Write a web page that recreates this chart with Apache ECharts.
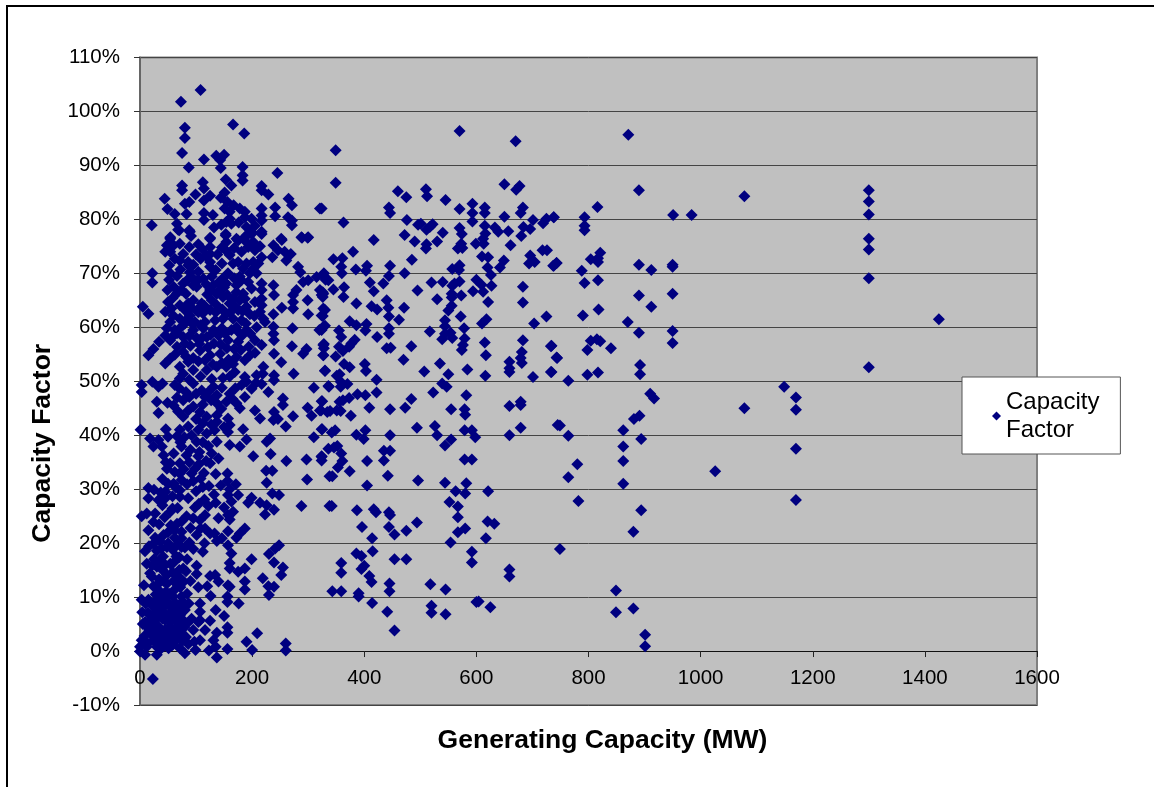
<!DOCTYPE html>
<html><head><meta charset="utf-8"><style>html,body{margin:0;padding:0;background:#fff}#c{width:1154px;height:787px}</style>
<script src="https://cdn.jsdelivr.net/npm/echarts@6/dist/echarts.min.js"></script></head>
<body><div id="c"></div>
<script>
const seriesName = 'Capacity Factor';
const xAxisTitle = 'Generating Capacity (MW)';
const yAxisTitle = 'Capacity Factor';
// [MW, capacity factor %]
const pointsRight = [[1300,85.4],[1300,83.3],[1300,80.9],[1300,76.4],[1300,74.4],[1300,69.1],[1300,52.6],[1425,61.5],[871,95.7],[890,85.4],[1078,84.3],[816,82.3],[951,80.8],[984,80.8],[793,80.4],[793,78.8],[793,78],[738,80.4],[890,71.6],[912,70.6],[950,71.6],[950,71.2],[821,73.8],[817,72.8],[804,72.6],[817,72.1],[743,71.9],[738,71.4],[788,70.5],[793,68.2],[817,68.7],[890,65.9],[950,66.2],[912,63.8],[818,63.3],[790,62.2],[870,61],[890,59],[950,59.3],[950,57.1],[815,57.8],[804,57.5],[821,57.4],[798,55.8],[840,56.1],[733,56.5],[744,54.3],[892,53],[892,51.3],[817,51.6],[798,51.2],[733,51.7],[764,50.1],[1149,49],[910,47.7],[917,46.8],[1078,45],[891,43.6],[881,43],[862,40.9],[894,39.3],[862,37.9],[862,35.2],[862,31],[749,41.8],[764,39.9],[780,34.6],[764,32.2],[782,27.8],[1026,33.3],[894,26.1],[880,22.1],[749,18.9],[849,11.2],[849,7.2],[880,7.9],[901,3],[901,0.9],[1170,47],[1170,44.7],[1170,37.5],[1170,28]];
const pointsMiddleUpper = [[570,96.4],[670,94.5],[349,92.8],[349,86.8],[650,86.5],[677,86.2],[671,85.5],[460,85.2],[475,84.1],[510,85.6],[512,84.3],[545,83.6],[324,82],[444,82.2],[446,81.2],[570,81.9],[593,82.9],[593,81.2],[615,82.2],[615,81.2],[683,82.2],[679,81.2],[650,80.5],[476,79.9],[593,79.6],[701,79.9],[725,80.1],[719,79.3],[738,80.4],[363,79.4],[496,79],[501,79.2],[522,79.1],[517,78.6],[511,78.1],[570,78.4],[615,78.8],[633,78.5],[639,77.7],[657,77.8],[684,78.6],[696,78.2],[574,77.3],[616,77.4],[472,77.1],[540,77.5],[680,76.9],[417,76.2],[490,75.9],[530,75.9],[612,76.4],[511,75.4],[510,74.6],[573,75.5],[599,75.5],[613,75.5],[661,75.2],[567,74.6],[575,74.7],[380,74],[718,74.3],[726,74.3],[345,72.6],[361,72.8],[485,72.5],[610,73.1],[621,73],[696,73.3],[649,72.4],[694,71.8],[704,72.1],[743,71.9],[737,71.4],[359,71.2],[405,71.4],[385,70.7],[403,70.5],[446,71.4],[570,71.5],[557,70.8],[569,70.6],[620,71.1],[642,71.1],[360,70],[328,70],[472,70],[444,69.5],[626,69.7],[331,68.8],[410,68.3],[434,68.1],[520,68.3],[540,68.4],[570,68.5],[561,68.1],[600,68.8],[557,67.7],[609,67.9],[627,67.7],[683,67.5],[364,67.4],[345,67],[417,66.7],[495,66.8],[594,66.7],[612,66.6],[556,66.2],[326,66.5],[326,65.6],[363,65.6],[573,65.9],[530,65.2],[556,65.5],[621,64.7],[683,64.6],[386,64.4],[440,65],[413,63.9],[423,63.3],[443,63.6],[471,63.6],[556,64],[550,63.1],[330,63.2],[326,62.1],[444,62],[462,61.4],[572,62],[725,62],[618,61.5],[610,60.7],[703,60.7],[374,61.1],[386,60.4],[404,60.6],[402,59.4],[330,60.3],[324,59.5],[355,59.4],[444,59.8],[444,58.8],[517,59.2],[544,61.3],[544,60.2],[544,58.8],[554,59],[557,58],[539,57.8],[578,59.8],[359,58.2],[423,58.2],[579,57.9],[683,57.6],[615,57.2],[734,56.6],[576,56.7],[574,55.8],[484,56.5],[383,57.7],[377,57],[373,56.4],[355,56.4],[362,55.6],[328,56.9],[328,56.1],[440,56.1],[447,56.2],[617,54.8],[681,55.4],[679,54.3],[681,53.4],[743,54.4],[327,54.8],[349,54.6],[470,54],[535,53.3],[659,53.6],[659,52.4],[659,51.7],[364,53.2],[374,52.6],[401,53.2],[403,51.9],[330,51.9],[356,51.3],[351,51],[507,51.8],[584,52.2],[550,51.3],[734,51.7],[616,51],[701,50.8],[422,50.3],[358,49.9],[370,49.5],[336,49.1],[358,49],[539,49.6],[547,49]];
const pointsMiddleLower = [[337,49],[388,47.6],[402,47.4],[422,47.9],[523,47.9],[582,47.4],[373,46.9],[362,46.5],[356,46.2],[325,46.3],[484,46.7],[473,45.1],[409,45.1],[446,44.8],[555,44.8],[579,44.8],[580,43.8],[659,45.4],[679,46.2],[679,45.6],[339,44.5],[351,44.6],[358,44.5],[323,44.6],[376,43.6],[494,41.4],[526,41.7],[579,40.9],[592,40.9],[679,41.4],[745,41.9],[325,41.1],[348,40.9],[342,40.5],[402,40.9],[386,40.1],[399,39.3],[446,40],[530,40],[598,39.6],[659,40],[555,39.2],[544,38.1],[352,38],[336,37.5],[346,37.7],[435,37.1],[446,37.1],[359,36.6],[324,36.1],[324,35.3],[361,35.2],[405,35.2],[435,35.3],[579,35.5],[592,35.5],[353,34],[374,33.3],[343,32.4],[442,32.5],[496,31.6],[544,31.2],[582,31.1],[405,30.7],[563,29.6],[580,29.2],[621,29.6],[342,26.9],[387,26.1],[552,27.6],[567,26.8],[417,26.3],[421,25.7],[444,25.7],[446,25.2],[567,24.8],[396,23],[444,23],[454,21.6],[475,22.3],[494,23.8],[620,24],[632,23.6],[580,22.7],[567,22],[414,20.9],[617,20.9],[554,20.1],[415,18.5],[386,18.1],[395,17.6],[592,18.4],[592,16.4],[454,17],[475,17],[359,16.3],[400,15.8],[395,15.2],[659,15.1],[659,13.8],[359,14.5],[409,13.9],[413,12.8],[445,12.5],[518,12.4],[545,11.4],[445,11.1],[343,11.1],[359,11.1],[390,10.7],[390,10.1],[600,9.1],[604,9.2],[625,8.1],[414,8.9],[441,7.3],[520,8.4],[520,7.1],[545,6.8],[454,3.8]];
const pointsLeftTop = [[80,97],[80,95.1],[75,92.3],[114,91.1],[136,91.8],[150,92],[143,91],[87,89.6],[144,89.5],[183,89.7],[183,88.2],[183,87.2],[245,88.6],[166,97.6],[186,95.9],[73,101.8],[108,104],[153,87.4],[163,86.3],[75,86.3],[75,85.4],[112,86.9],[114,85.7],[217,86.2],[217,85.4],[229,84.6],[151,85],[144,84],[99,84.6],[125,84.4],[44,83.8],[114,83.5],[88,83.2],[80,82.9],[265,83.8],[271,82.6],[156,83.2],[167,82.6],[178,82],[151,82],[49,81.9],[62,81],[83,81],[114,81.2],[114,79.9],[217,82],[241,82.2],[321,82],[264,80.4],[271,79.8],[271,78.9],[241,80.6],[217,80.7],[217,79.8],[187,80.4],[187,81.4],[199,80.1],[160,80.1],[154,79.5],[163,79.2],[160,81.4],[21,78.9],[66,79.2],[68,78.1],[88,78],[91,76.9],[190,78.6],[153,77.3],[199,77.3],[217,77.7],[187,76.7],[54,76.7],[125,76.6],[172,76.4],[252,76.4],[288,76.7],[300,76.7]];
const pointsLeftMiddle = [[70,78],[89,77.7],[54,76.4],[125,76.4],[153,77],[154,75.8],[190,77],[217,77.3],[199,77.6],[175,76.1],[193,74.9],[202,75.8],[187,76.1],[253,76.2],[289,76.6],[299,76.6],[48,75.2],[60,75.2],[71,75.5],[54,74],[62,72.7],[45,74],[77,73.6],[88,74.9],[100,73.5],[86,72.1],[71,72.4],[125,74.9],[125,73.6],[125,72.1],[125,71.2],[135,70.6],[146,71.8],[153,74.3],[166,71.8],[175,72.1],[190,71.8],[202,72.1],[211,71.8],[217,73],[202,70.9],[208,70],[196,70],[184,70.9],[157,70],[238,75.2],[236,73],[246,74.3],[258,74],[269,73.6],[261,72.4],[282,71.2],[286,70.2],[291,68.4],[300,68.7],[315,69.3],[327,69.6],[336,68.7],[52,71.5],[86,71.5],[54,70],[22,70],[22,68.3],[104,70.3],[89,70.2],[113,69],[92,69.3],[77,68.1],[95,67.8],[140,68.3],[49,66.9],[82,66.2],[101,67.5],[125,66.9],[137,66.2],[154,68.1],[172,67.8],[181,68.7],[193,68.4],[217,68.1],[199,67.2],[184,66.2],[172,66.5],[217,66.9],[217,65.3],[217,64.1],[238,67.8],[239,66],[220,61.6],[223,61],[279,66.9],[273,66],[273,64.7],[273,63.5],[299,65],[253,63.6],[300,62.4],[238,62.4],[327,66.2],[321,66.9],[324,66],[327,63.5],[324,62.2],[327,60.1],[320,59.5],[5,63.8],[15,62.5],[50,64.7],[56,63.5],[45,62.9],[59,62.2],[71,64.1],[80,63.2],[95,65],[110,64.4],[128,65],[148,65.6],[137,64.1],[160,64.4],[178,65],[190,63.8],[205,64.7],[187,65.3],[175,63.2],[154,62.5],[125,63.2],[104,62.8],[89,62.2],[71,61.6],[54,61],[48,59.8],[62,59.5],[80,60.7],[98,61],[116,61],[134,61.3],[148,61.6],[166,61.6],[181,61.3],[190,59.5],[208,60],[172,60],[163,59.5],[146,59.8],[131,59.5],[113,59.8],[95,59.5],[77,58.2],[54,57.6],[34,57.3],[45,58.5],[101,58],[119,58.2],[140,58.5],[157,57.6],[175,57.3],[205,57.6],[217,56.7],[238,60.1],[238,58.8],[239,57.6],[272,59.8],[271,56.5],[297,56],[291,55.1],[327,56.7],[327,54.8],[239,55.1],[252,53.5],[194,56.4],[24,56],[15,54.8],[77,55.4],[54,54.2],[45,53.3],[71,52.7],[86,53.6],[107,55.7],[125,54.8],[143,55.1],[116,53.9],[172,54.5],[196,54.8],[187,53.9],[154,52.7],[169,51.7],[137,52.7],[119,52.1],[95,52.1],[77,51.4],[187,50.8],[220,52.7],[208,51.1],[219,51.4],[239,51.1],[239,50.2],[274,51.4],[330,52],[310,48.8],[3,49.3],[3,48],[22,49.9],[40,49.6],[33,49],[70,48.7],[71,50.5],[95,49.6],[110,48.3],[116,47.1],[131,49],[137,47.4],[137,45.9],[160,47.7],[181,49.3],[199,48.6],[217,49.5],[187,47.1],[172,45.9],[229,48],[154,46.2],[178,45],[205,44.6],[30,46.2],[49,46],[33,44.1],[77,46.5],[95,45.3],[77,43.4],[107,44.3],[119,43.4],[137,43.7],[86,41.6],[104,41],[119,40.3],[71,41],[255,46.8],[255,45.6],[239,44.3],[238,42.8],[246,43],[260,41.6],[273,43.5],[299,45.1],[306,43.6],[321,44.6],[324,46.3],[334,44.3],[214,43.1],[137,42.5],[157,43.1],[160,41.9],[157,40.6],[184,41.1],[1,41],[46,41.1],[18,39.4],[33,39.1],[50,39.7],[101,38.8],[137,38.8],[190,39.2],[232,39.4],[226,38.8],[324,41.1],[310,39.6],[74,37.9],[24,37.9],[39,37.9],[160,38.2],[178,37.9]];
const pointsLeftBottom = [[42,36.3],[83,36.3],[104,36.1],[128,36.6],[140,35.7],[202,36.1],[233,36.5],[261,35.2],[297,35.5],[324,36],[338,32.4],[54,34.8],[71,34.8],[105,34.6],[125,34.8],[48,33.8],[71,32.9],[92,32.9],[114,33],[135,32.8],[156,32.9],[225,33.4],[236,33.4],[40,31.9],[74,31.7],[95,31.5],[156,31.5],[298,31.8],[226,31.2],[112,30.4],[123,30.6],[144,30.7],[171,30.9],[160,30],[15,30.2],[25,29.9],[45,29.5],[71,29.8],[175,28.9],[157,28.9],[236,29.2],[248,28.9],[15,28.3],[33,28],[45,28.3],[71,28.6],[86,28.3],[105,27.3],[122,26.9],[135,27.5],[163,27.7],[193,27.5],[199,28.4],[214,27.5],[226,27],[239,26.2],[288,26.9],[338,26.9],[40,27],[54,25.8],[27,25.5],[12,25.5],[3,25],[95,24.6],[107,24.3],[116,25.2],[140,24.6],[157,25.2],[160,24.4],[223,25.3],[74,24],[34,23.5],[55,23.3],[15,22.4],[62,22.4],[74,22.1],[101,21.5],[116,22.7],[125,21.8],[157,22.2],[187,22.7],[178,21.8],[172,21],[27,21],[36,20.3],[74,20.9],[137,20.4],[157,19.6],[9,18.5],[48,19.3],[74,19.3],[95,18.9],[112,18.4],[248,19.6],[241,19],[230,18],[163,18.1],[41,17.5],[65,17.5],[12,16.2],[30,15.6],[101,15.8],[160,16.3],[199,17],[239,16.4],[255,15.5],[54,16.2],[77,15.3],[160,15.3],[187,15.3],[175,14.7],[252,14.1],[21,13.8],[48,14.1],[101,14.3],[125,13.9],[134,14.1],[219,13.5],[7,12.2],[30,12.2],[48,12.5],[68,12.2],[140,12.9],[157,12.2],[187,12.9],[187,11.4],[104,11.8],[120,12],[160,11.9],[229,12],[239,11.9],[230,10.4],[3,9.5],[15,9.5],[30,9.5],[42,9.8],[59,10.1],[74,10.1],[126,10.2],[156,10.1],[156,9.1],[176,8.8],[107,8.8],[24,8.2],[42,8.2],[59,8.2],[74,8.2],[135,7.6],[107,7.3],[33,7],[18,6.7],[54,7],[80,7.6],[150,6.5],[107,5.7],[9,5.4],[27,5.7],[45,5.7],[62,5.7],[77,5.7],[104,5.4],[125,5.6],[12,4.5],[33,4.5],[54,4.5],[71,4.5],[95,3.9],[116,3.9],[156,4.4],[18,3.3],[39,3.3],[59,3.3],[77,3],[137,3.4],[156,3.4],[209,3.3],[131,2],[107,2],[3,2],[24,2],[45,2],[62,1.7],[190,1.7],[260,1.4],[135,0.8],[0,0.8],[12,0.8],[30,0.8],[51,0.5],[71,0.5],[99,0.2],[123,0.1],[156,0.4],[200,0.2],[260,0.1],[0,-0.1],[9,-0.7],[30,-0.7],[80,-0.4],[137,-1.2],[23,-5.2],[20,3.8],[40,6],[50,9],[65,6.5],[36,11],[60,13],[70,15],[25,17],[50,20],[62,21],[40,15],[20,6]];
const pointsDenseBand = [[52,68.8],[60,67.5],[66,66.3],[58,65.4],[74,66.9],[86,64.4],[92,63.6],[102,63.2],[112,62.6],[120,66.1],[131,67.8],[143,66.9],[150,67.4],[156,66],[166,65.2],[170,63.8],[183,63],[196,62.4],[204,62.1],[214,62.9],[161,62.8],[147,63.3],[135,62.8],[115,64],[108,60.4],[92,60.8],[84,61.5],[73,60],[66,58.9],[58,58.3],[88,58.4],[106,56.9],[121,56.3],[132,57],[144,56.8],[155,56.1],[168,56],[182,58.5],[197,58.8],[189,60.7],[176,59.1],[152,58.8],[126,58.6],[110,58],[90,56.6],[80,57],[66,56.4],[62,54.9],[82,54.6],[95,54.3],[104,53.7],[130,53.1],[146,53.4],[158,54],[166,53.2],[180,55.8],[205,55.3],[160,50.9],[148,50.6],[128,50.4],[108,50.9],[88,50.3],[62,49.3],[82,48],[100,47.7],[122,48],[146,48.8],[170,48.7],[190,49.9],[207,49.7],[165,46.7],[127,46.5],[112,45.7],[88,47.1],[66,47],[60,45.5],[68,44.4],[86,44.6],[100,43],[112,42.2],[127,42],[145,44.9],[150,41.5],[133,40.9],[92,40],[79,39.6],[66,39.8],[112,38.7],[122,38],[90,37.3],[106,36.9],[118,35.2],[88,35],[78,33.7],[98,33.8],[108,32],[84,30.9],[60,31],[100,29.6],[132,29],[115,28.1],[98,26.6],[150,26.6],[166,25.8],[83,25],[67,26.5],[108,22.7],[90,22.8],[133,21.8],[146,20.9],[115,20],[88,20.1],[104,75.4],[112,74.4],[108,72.7],[95,71.6],[118,73.2],[138,73.5],[146,74.8],[160,73.4],[168,74.7],[181,74],[205,74.3],[214,75],[178,69.4],[168,69.1],[147,69],[128,69.4],[118,68],[104,68.8],[84,68.7],[66,69.5],[72,70.7],[132,78.5],[145,79],[176,79.4],[205,78.8],[130,80.8]];
const pointsLowBlob = [[5,5],[8,2.8],[14,1.4],[17,3.8],[22,5],[26,3.1],[29,1.8],[31,4],[36,2.3],[38,0.5],[43,1],[44,3.9],[47,3],[50,1.4],[52,5.5],[56,2.6],[58,1.1],[63,3.9],[66,2.7],[69,5.1],[72,3.4],[76,1.9],[79,4.4],[82,2.6],[86,1.3],[4,7.2],[10,8.8],[14,7.1],[21,8.8],[28,7.2],[35,8.7],[38,7.5],[44,7],[48,6.2],[52,8.4],[57,6.4],[63,8.9],[67,7.6],[71,6.6],[76,9.2],[84,5.1],[87,8.8],[92,6],[97,1.7],[28,10.5],[38,10.2],[46,11],[52,10.6],[63,11.5],[72,11.8],[78,12.9],[84,10.6],[24,12],[18,14.4],[34,13.3],[42,13],[58,14.6],[68,13.9],[82,14.8],[90,13],[22,15.9],[36,16.9],[45,16],[60,16.4],[70,17.4],[84,17],[30,18.6],[38,19],[58,18.8],[66,19.7],[80,19.2],[16,19.4],[24,19.9],[42,21.5],[50,22],[66,23.6],[44,24.8],[24,23.9],[58,26.4],[37,29.4],[58,28.7],[64,30.3],[50,31],[62,33.2],[46,35],[60,36.6],[72,38.7]];
const allPoints = [].concat(pointsRight, pointsMiddleUpper, pointsMiddleLower, pointsLeftTop, pointsLeftMiddle, pointsLeftBottom, pointsDenseBand, pointsLowBlob);
const font = '"Liberation Sans", Arial, sans-serif';
const chart = echarts.init(document.getElementById('c'), null, {renderer:'canvas'});
chart.setOption({
  animation:false,
  textStyle:{fontFamily:font},
  graphic:[
    {type:'line',silent:true,z:-1,shape:{x1:6,y1:6,x2:1154,y2:6},style:{stroke:'#000',lineWidth:2}},
    {type:'line',silent:true,z:-1,shape:{x1:7,y1:5,x2:7,y2:787},style:{stroke:'#000',lineWidth:2}}
  ],
  grid:{left:140,right:117,top:57.5,bottom:82,outerBoundsMode:'none',show:true,backgroundColor:'#C0C0C0',borderColor:'#808080',borderWidth:2},
  legend:{show:true,left:962,top:377,orient:'vertical',backgroundColor:'#fff',borderColor:'#555',borderWidth:1,borderRadius:0,
    padding:[11,21,10,30],itemWidth:9,itemHeight:9,itemGap:0,
    formatter:()=>'Capacity\nFactor',
    textStyle:{fontFamily:font,fontSize:24,lineHeight:28,color:'#000'},
    data:[{name:seriesName,icon:'diamond'}]},
  xAxis:{type:'value',min:0,max:1600,interval:200,
    name:xAxisTitle,nameLocation:'middle',nameGap:22,nameMoveOverlap:false,
    nameTextStyle:{fontFamily:font,fontSize:26.5,fontWeight:'bold',color:'#000',padding:[0,0,0,28]},
    axisLine:{onZero:true,lineStyle:{color:'#111',width:1}},
    axisTick:{show:true,length:6,lineStyle:{color:'#222'}},
    axisLabel:{fontFamily:font,fontSize:20.5,color:'#000',margin:-37,showMinLabel:true,showMaxLabel:true,formatter:v=>String(v)},
    splitLine:{show:false}},
  yAxis:{type:'value',min:-10,max:110,interval:10,
    name:yAxisTitle,nameLocation:'middle',nameGap:84,nameRotate:90,nameMoveOverlap:false,
    nameTextStyle:{fontFamily:font,fontSize:26.5,fontWeight:'bold',color:'#000',padding:[0,124,0,0]},
    axisLine:{show:true,lineStyle:{color:'#666',width:2}},
    axisTick:{show:true,length:6,lineStyle:{color:'#333'}},
    axisLabel:{fontFamily:font,fontSize:20.5,color:'#000',margin:20,formatter:'{value}%',showMinLabel:true,showMaxLabel:true},
    splitLine:{show:true,lineStyle:{color:'#444',width:1}}},
  series:[{name:seriesName,type:'scatter',data:allPoints,symbol:'diamond',symbolSize:12,
    itemStyle:{color:'#000080',opacity:1},clip:false,large:false}]
});
</script></body></html>
